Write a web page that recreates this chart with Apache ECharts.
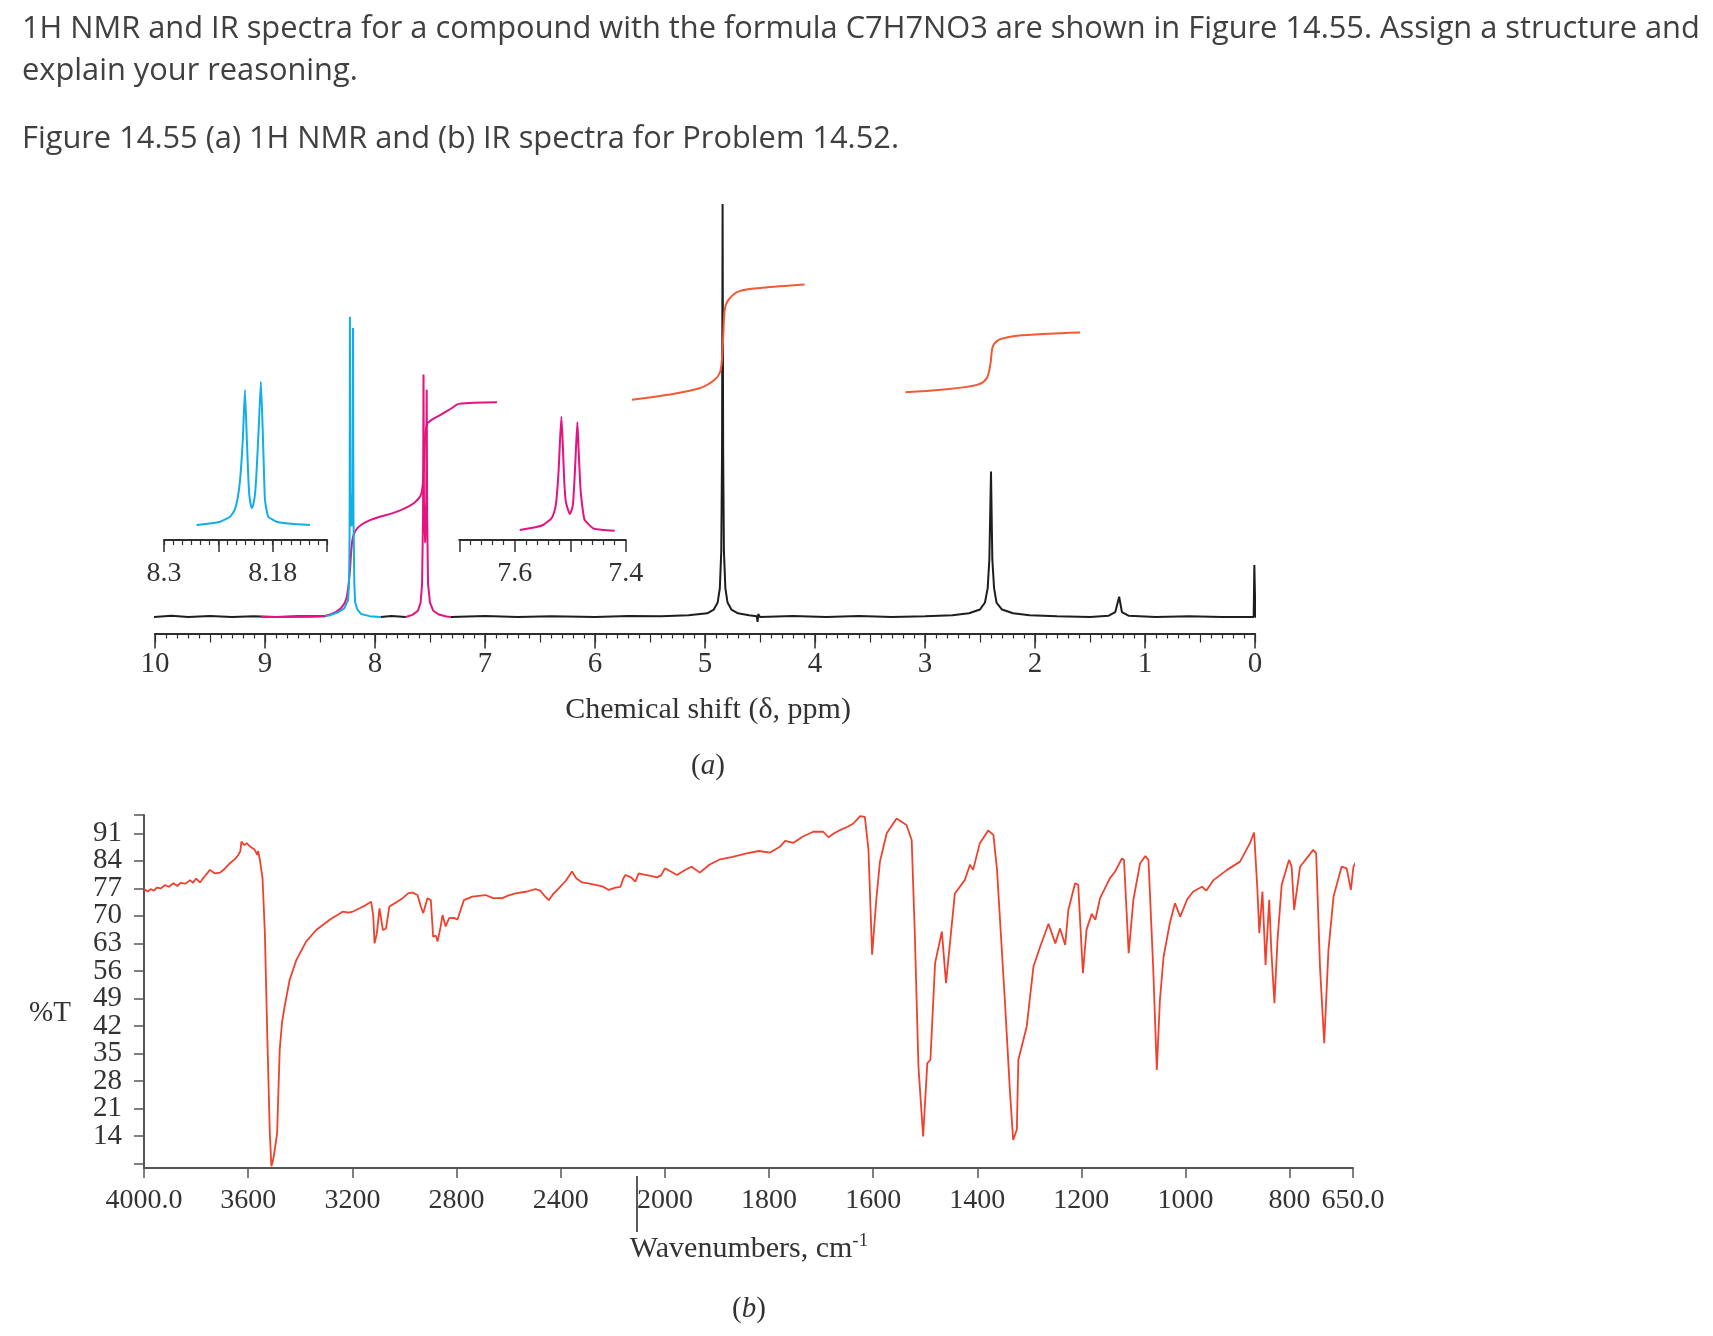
<!DOCTYPE html>
<html>
<head>
<meta charset="utf-8">
<script src="https://cdn.jsdelivr.net/npm/echarts@6/dist/echarts.min.js"></script>
<style>
html,body{margin:0;padding:0;background:#fff;}
#chart{width:1713px;height:1336px;}
</style>
</head>
<body>
<div id="chart"></div>
<script>
// ---------- DATA ----------
// 1H NMR main spectrum (ppm, intensity); '-' breaks the trace where coloured peaks are drawn
const nmrSpectrum = [
  [10.02,0],[9.85,0.3],[9.7,0],[9.5,0.25],[9.3,0],[9.1,0.2],[8.9,0],[8.7,0.2],[8.45,0.2],[8.44,'-'],
  [7.95,0],[7.85,0.25],[7.72,0],[7.71,'-'],
  [7.31,0],[7.0,0.25],[6.7,0],[6.4,0.2],[6.0,0],[5.7,0.25],[5.4,0.2],[5.15,0.4],[4.98,0.9],[4.92,1.8],
  [4.885,3.5],[4.865,7],[4.852,16],[4.845,40],[4.84,100],[4.835,40],[4.828,16],[4.815,7],[4.795,3.5],
  [4.76,1.8],[4.7,0.9],[4.6,0.4],[4.53,0.2],[4.522,-1.2],[4.516,0.7],[4.5,0],[4.2,0.25],[3.9,0],
  [3.6,0.25],[3.3,0],[3.0,0.2],[2.75,0.4],[2.6,0.9],[2.5,1.8],[2.455,3.5],[2.43,7],[2.415,14],[2.40,35.2],
  [2.388,14],[2.372,7],[2.35,3.5],[2.3,1.8],[2.2,0.9],[2.05,0.4],[1.8,0.2],[1.5,0],[1.33,0.3],
  [1.27,1.2],[1.235,4.9],[1.21,1.2],[1.15,0.3],[0.9,0],[0.6,0.2],[0.3,0],[0.012,0],[0.006,12.6],
  [0.002,12.6],[-0.004,0],[-0.16,0]
];
// aromatic peaks in the main spectrum
const nmrPeakBlue = [
  [8.45,0.2],[8.40,0.5],[8.33,1.2],[8.28,2.1],[8.245,4.1],[8.236,8],[8.231,20],[8.228,72.7],[8.224,30],
  [8.214,22],[8.204,30],[8.200,70],[8.196,25],[8.188,8],[8.18,3.5],[8.16,1.8],[8.125,0.7],[8.05,0.2],[7.95,0]
];
const nmrPeakMagenta = [
  [7.72,0],[7.66,0.5],[7.61,1.5],[7.585,3.5],[7.572,8],[7.563,25],[7.559,58.7],[7.555,28],[7.544,18],
  [7.534,28],[7.530,55],[7.526,25],[7.518,8],[7.50,3.5],[7.47,1.5],[7.42,0.6],[7.35,0.1],[7.31,0]
];
// integral traces
const integralAromatic = [
  [9.04,0],[8.52,0.1],[8.40,0.7],[8.31,2.1],[8.26,4.5],[8.23,10.6],[8.205,18.7],[8.16,21.5],[8.04,23.5],
  [7.80,25.5],[7.645,27.6],[7.577,30.0],[7.553,38.1],[7.53,46.5],[7.40,49.0],[7.30,50.6],[7.24,51.6],[6.89,52.0]
];
const integralCH2 = [
  [5.664,52.6],[5.34,53.8],[5.05,55.4],[4.91,57.5],[4.857,59.9],[4.836,67.2],[4.82,74.4],[4.787,76.8],
  [4.687,78.9],[4.48,79.7],[4.095,80.5]
];
const integralOH = [
  [3.178,54.4],[2.852,55.0],[2.526,56.2],[2.437,57.9],[2.404,61.5],[2.383,65.5],[2.32,67.2],[2.16,68.1],
  [1.875,68.6],[1.59,68.9]
];
// expansion insets
const insetBlue = [
  [8.264,15],[8.25,16.5],[8.238,18.3],[8.227,23.3],[8.222,30],[8.219,40],[8.216,60],[8.213,100],[8.2106,150],
  [8.2085,100],[8.207,65],[8.2058,45],[8.2032,31.7],[8.2015,35],[8.1996,45],[8.198,65],[8.1955,110],[8.193,158.3],
  [8.191,110],[8.1895,65],[8.1885,40],[8.1849,23.3],[8.1756,18.3],[8.16,16.3],[8.1388,15]
];
const insetMagenta = [
  [7.591,10],[7.565,12.5],[7.549,15],[7.534,21.7],[7.528,30],[7.525,40],[7.521,70],[7.5185,100],[7.516,123.3],
  [7.5135,95],[7.511,60],[7.5085,40],[7.5058,33.3],[7.501,26],[7.497,31],[7.495,36.7],[7.492,65],[7.4895,95],
  [7.4872,117.7],[7.485,90],[7.4825,60],[7.481,46.7],[7.477,28],[7.474,20],[7.459,11.7],[7.44,10],[7.42,9.3]
];
const insetBlueTicksMajor = [8.12, 8.18, 8.24, 8.30];
const insetBlueTicksMinor = [8.12,8.13,8.14,8.15,8.16,8.17,8.18,8.19,8.20,8.21,8.22,8.23,8.24,8.25,8.26,8.27,8.28,8.29,8.30];
const insetBlueLabels = [8.18, 8.30];

// IR spectrum (wavenumber cm-1, %T)
const irSpectrum = [
  [4000,76.8],[3996,77.0],[3985,76.2],[3975,76.8],[3962,76.4],[3951,77.2],[3935,77.0],[3920,77.8],[3905,77.4],
  [3887,78.3],[3872,77.6],[3860,78.4],[3840,78.2],[3823,79.1],[3812,78.4],[3800,79.5],[3785,78.5],[3775,79.4],
  [3765,80.2],[3747,81.7],[3728,80.8],[3708,81.0],[3690,82.0],[3670,83.4],[3650,84.5],[3638,85.5],[3630,86.5],
  [3626,88.9],[3615,88.0],[3606,88.5],[3590,87.5],[3575,86.8],[3565,85.5],[3562,86.5],[3555,84.2],[3545,79.6],
  [3536,65.6],[3527,40.2],[3517,14.7],[3511,6.3],[3504,8.0],[3498,10.5],[3489,14.7],[3479,36.0],[3470,43.0],
  [3460,47.0],[3441,53.7],[3415,58.8],[3377,63.5],[3339,66.4],[3287,69.0],[3236,71.1],[3215,70.8],[3198,71.1],
  [3170,72.0],[3147,72.8],[3128,73.6],[3120,70.0],[3115,63.0],[3106,65.6],[3096,71.9],[3083,66.4],[3071,66.8],
  [3058,72.4],[3030,73.5],[3007,74.5],[2985,75.8],[2969,75.9],[2950,75.3],[2938,72.5],[2928,70.7],[2912,74.5],
  [2899,74.0],[2890,64.7],[2880,65.0],[2873,63.5],[2862,67.0],[2854,70.2],[2842,67.3],[2829,69.4],[2810,69.5],
  [2797,69.0],[2772,74.0],[2740,74.9],[2689,75.3],[2660,74.5],[2625,74.5],[2600,75.2],[2573,75.7],[2530,76.2],
  [2497,76.8],[2480,76.5],[2465,75.3],[2446,74.0],[2430,75.5],[2408,77.0],[2380,79.0],[2357,81.3],[2340,79.5],
  [2318,78.5],[2290,78.2],[2267,77.9],[2240,77.5],[2216,76.6],[2190,77.2],[2171,77.4],[2160,79.5],[2152,80.4],
  [2130,79.8],[2114,78.7],[2101,80.8],[2080,80.5],[2055,80.2],[2032,79.8],[2015,80.3],[2000,82.1],
  [1977,80.4],[1960,81.8],[1949,82.5],[1933,81.0],[1915,83.0],[1894,84.4],[1870,85.0],[1843,85.9],[1820,86.5],
  [1798,86.1],[1780,87.5],[1769,89.1],[1753,88.6],[1735,90.2],[1715,91.4],[1696,91.4],[1686,90.0],[1675,91.0],
  [1664,91.8],[1650,92.6],[1638,93.5],[1625,95.4],[1616,95.2],[1609,86.8],[1602,60.1],[1594,74.1],[1587,83.8],
  [1574,91.0],[1555,94.8],[1536,93.1],[1526,89.3],[1520,65.6],[1513,31.7],[1504,13.9],[1496,32.5],[1490,33.4],
  [1481,58.0],[1468,66.0],[1460,52.9],[1443,75.7],[1424,79.1],[1414,83.0],[1408,81.7],[1395,88.5],[1379,91.7],
  [1369,90.6],[1362,81.7],[1347,48.6],[1337,24.9],[1331,13.0],[1324,15.6],[1321,33.4],[1305,41.8],[1292,57.1],
  [1279,62.2],[1263,68.0],[1250,63.0],[1241,66.8],[1231,62.6],[1225,71.5],[1212,78.3],[1206,77.9],[1197,55.4],
  [1190,66.5],[1180,70.5],[1173,69.0],[1164,74.5],[1145,79.6],[1135,81.3],[1122,84.6],[1118,84.2],[1109,60.5],
  [1100,74.1],[1087,83.4],[1077,85.2],[1071,84.2],[1062,57.1],[1055,30.8],[1049,48.6],[1042,59.6],[1030,68.1],
  [1020,73.2],[1010,69.8],[997,74.1],[985,76.2],[968,77.4],[960,76.4],[946,79.1],[920,81.7],[895,83.8],
  [876,88.5],[868,91.2],[862,77.4],[858,65.6],[852,76.2],[846,57.5],[839,74.1],[835,61.3],[829,47.8],[823,63.9],
  [815,77.9],[801,84.2],[800,84.0],[795,82.5],[789,71.5],[775,82.5],[744,86.8],[737,85.9],[728,57.1],[718,37.6],
  [708,61.3],[696,74.9],[677,82.5],[665,82.1],[655,76.6],[649,82.5],[633,85.9],[614,87.6]
];
const irYTicks = [7,14,21,28,35,42,49,56,63,70,77,84,91,95.66];
const irYLabelsEven = [14,28,42,56,70,84];
const irYLabelsOdd = [21,35,49,63,77,91];

// ---------- STYLE ----------
const SERIF = '"Liberation Serif", "Times New Roman", serif';
const SANS = '"Open Sans", Lato, sans-serif';
const C_BLACK = '#1e1e1e', C_BLUE = '#12aee8', C_MAG = '#e5137f', C_INT = '#f25a35', C_IR = '#f0412e';
const AX = '#2e2e2e';

function seg(lo, hi) { return irSpectrum.filter(p => p[0] >= lo && p[0] <= hi); }

const chart = echarts.init(document.getElementById('chart'), null, {renderer: 'canvas'});

const lineBase = {type: 'line', showSymbol: false, symbol: 'none', connectNulls: false, animation: false};
const txt = (x, y, text, font, align) => ({type: 'text', x: x, y: y, style: {text: text, font: font, fill: '#404040',
  align: align, verticalAlign: 'middle', textAlign: align, textVerticalAlign: 'middle'}});

const option = {
  backgroundColor: '#ffffff',
  animation: false,
  grid: [
    {left: 155, top: 204, width: 1100, height: 429.5},      // 0 NMR main
    {left: 164, top: 380, width: 163, height: 160},         // 1 blue inset
    {left: 459.3, top: 380, width: 166.5, height: 160},     // 2 magenta inset
    {left: 144, top: 815, width: 521, height: 353},         // 3 IR 4000-2000
    {left: 665, top: 815, width: 624.5, height: 353},       // 4 IR 2000-800
    {left: 1289.5, top: 815, width: 63.5, height: 353}      // 5 IR 800-650
  ],
  xAxis: [
    {gridIndex: 0, type: 'value', min: 0, max: 10, interval: 1, inverse: true, position: 'bottom',
     axisLine: {show: true, onZero: false, lineStyle: {color: AX, width: 2}},
     axisTick: {show: true, length: 15, lineStyle: {color: AX, width: 1.5}},
     axisLabel: {show: true, margin: 16, color: '#333', fontFamily: SERIF, fontSize: 29},
     splitLine: {show: false}},
    {gridIndex: 0, type: 'value', min: 0, max: 10, interval: 0.5, inverse: true, position: 'bottom',
     axisLine: {show: false, onZero: false},
     axisTick: {show: true, length: 9, lineStyle: {color: AX, width: 1.2}},
     minorTick: {show: true, splitNumber: 5, length: 5, lineStyle: {color: AX, width: 1.2}},
     axisLabel: {show: false}, splitLine: {show: false}},
    {gridIndex: 1, type: 'value', min: 8.12, max: 8.30, inverse: true, position: 'bottom',
     axisLine: {show: true, onZero: false, lineStyle: {color: AX, width: 2}},
     axisTick: {show: true, customValues: insetBlueTicksMajor, length: 12, lineStyle: {color: AX, width: 1.5}},
     axisLabel: {show: true, customValues: insetBlueLabels, margin: 20, color: '#333', fontFamily: SERIF, fontSize: 28,
       showMinLabel: true, showMaxLabel: true,
       formatter: v => (Math.abs(v - 8.3) < 1e-6 ? '8.3' : '8.18')},
     splitLine: {show: false}},
    {gridIndex: 1, type: 'value', min: 8.12, max: 8.30, inverse: true, position: 'bottom',
     axisLine: {show: false, onZero: false},
     axisTick: {show: true, customValues: insetBlueTicksMinor, length: 5, lineStyle: {color: AX, width: 1.2}},
     axisLabel: {show: false}, splitLine: {show: false}},
    {gridIndex: 2, type: 'value', min: 7.4, max: 7.7, interval: 0.1, inverse: true, position: 'bottom',
     axisLine: {show: true, onZero: false, lineStyle: {color: AX, width: 2}},
     axisTick: {show: true, length: 12, lineStyle: {color: AX, width: 1.5}},
     minorTick: {show: true, splitNumber: 5, length: 5, lineStyle: {color: AX, width: 1.2}},
     axisLabel: {show: true, margin: 20, color: '#333', fontFamily: SERIF, fontSize: 28, showMinLabel: true, showMaxLabel: true,
       formatter: v => (Math.abs(v - 7.6) < 1e-6 ? '7.6' : (Math.abs(v - 7.4) < 1e-6 ? '7.4' : ''))},
     splitLine: {show: false}},
    {gridIndex: 3, type: 'value', min: 2000, max: 4000, interval: 400, inverse: true, position: 'bottom',
     axisLine: {show: true, onZero: false, lineStyle: {color: '#555', width: 2}},
     axisTick: {show: true, length: 10, lineStyle: {color: '#555', width: 1.5}},
     axisLabel: {show: true, margin: 19, color: '#333', fontFamily: SERIF, fontSize: 28, showMinLabel: true, showMaxLabel: true,
       formatter: v => (v === 4000 ? '4000.0' : (v === 2000 ? '' : String(v)))},
     splitLine: {show: false}},
    {gridIndex: 4, type: 'value', min: 800, max: 2000, interval: 200, inverse: true, position: 'bottom',
     axisLine: {show: true, onZero: false, lineStyle: {color: '#555', width: 2}},
     axisTick: {show: true, length: 10, lineStyle: {color: '#555', width: 1.5}},
     axisLabel: {show: true, margin: 19, color: '#333', fontFamily: SERIF, fontSize: 28, showMinLabel: true, showMaxLabel: true,
       formatter: v => String(v)},
     splitLine: {show: false}},
    {gridIndex: 5, type: 'value', min: 650, max: 800, inverse: true, position: 'bottom',
     axisLine: {show: true, onZero: false, lineStyle: {color: '#555', width: 2}},
     axisTick: {show: true, customValues: [650, 800], length: 10, lineStyle: {color: '#555', width: 1.5}},
     axisLabel: {show: true, customValues: [650], margin: 19, color: '#333', fontFamily: SERIF, fontSize: 28,
       showMinLabel: true, showMaxLabel: true, formatter: () => '650.0'},
     splitLine: {show: false}}
  ],
  yAxis: [
    {gridIndex: 0, type: 'value', min: -4, max: 100, show: false},
    {gridIndex: 1, type: 'value', min: 0, max: 160, show: false},
    {gridIndex: 2, type: 'value', min: 0, max: 160, show: false},
    {gridIndex: 3, type: 'value', min: 5.86, max: 95.66, position: 'left',
     axisLine: {show: true, onZero: false, lineStyle: {color: '#555', width: 2}},
     axisTick: {show: true, customValues: irYTicks, length: 10, lineStyle: {color: '#555', width: 1.5}},
     axisLabel: {show: true, customValues: irYLabelsEven, margin: 22, color: '#333', fontFamily: SERIF, fontSize: 29,
       showMinLabel: true, showMaxLabel: true},
     splitLine: {show: false}},
    {gridIndex: 4, type: 'value', min: 5.86, max: 95.66, show: false},
    {gridIndex: 5, type: 'value', min: 5.86, max: 95.66, show: false},
    {gridIndex: 3, type: 'value', min: 5.86, max: 95.66, position: 'left', offset: 0,
     axisLine: {show: false, onZero: false}, axisTick: {show: false},
     axisLabel: {show: true, customValues: irYLabelsOdd, margin: 22, color: '#333', fontFamily: SERIF, fontSize: 29,
       showMinLabel: true, showMaxLabel: true},
     splitLine: {show: false}}
  ],
  series: [
    Object.assign({}, lineBase, {name: 'spectrum', xAxisIndex: 0, yAxisIndex: 0, clip: false, data: nmrSpectrum,
      lineStyle: {color: C_BLACK, width: 2}}),
    Object.assign({}, lineBase, {name: 'integral aromatic', xAxisIndex: 0, yAxisIndex: 0, clip: false, smooth: 0.3,
      data: integralAromatic, lineStyle: {color: C_MAG, width: 2}}),
    Object.assign({}, lineBase, {name: 'peak 8.2', xAxisIndex: 0, yAxisIndex: 0, clip: false, data: nmrPeakBlue,
      lineStyle: {color: C_BLUE, width: 2}}),
    Object.assign({}, lineBase, {name: 'peak 7.5', xAxisIndex: 0, yAxisIndex: 0, clip: false, data: nmrPeakMagenta,
      lineStyle: {color: C_MAG, width: 2}}),
    Object.assign({}, lineBase, {name: 'integral CH2', xAxisIndex: 0, yAxisIndex: 0, clip: false, smooth: 0.3,
      data: integralCH2, lineStyle: {color: C_INT, width: 2}}),
    Object.assign({}, lineBase, {name: 'integral OH', xAxisIndex: 0, yAxisIndex: 0, clip: false, smooth: 0.3,
      data: integralOH, lineStyle: {color: C_INT, width: 2}}),
    Object.assign({}, lineBase, {name: 'inset 8.2', xAxisIndex: 2, yAxisIndex: 1, clip: false, data: insetBlue,
      smooth: 0.15, lineStyle: {color: C_BLUE, width: 2}}),
    Object.assign({}, lineBase, {name: 'inset 7.5', xAxisIndex: 4, yAxisIndex: 2, clip: false, data: insetMagenta,
      smooth: 0.15, lineStyle: {color: C_MAG, width: 2}}),
    Object.assign({}, lineBase, {name: 'IR a', xAxisIndex: 5, yAxisIndex: 3, clip: false, data: seg(2000, 4000),
      lineStyle: {color: C_IR, width: 1.8}}),
    Object.assign({}, lineBase, {name: 'IR b', xAxisIndex: 6, yAxisIndex: 4, clip: false, data: seg(800, 2000),
      lineStyle: {color: C_IR, width: 1.8}}),
    Object.assign({}, lineBase, {name: 'IR c', xAxisIndex: 7, yAxisIndex: 5, clip: false, data: seg(0, 800),
      lineStyle: {color: C_IR, width: 1.8}})
  ],
  graphic: [
    txt(22, 29, '1H NMR and IR spectra for a compound with the formula C7H7NO3 are shown in Figure 14.55. Assign a structure and', '30.8px ' + SANS, 'left'),
    txt(22, 71, 'explain your reasoning.', '30.8px ' + SANS, 'left'),
    txt(22, 139, 'Figure 14.55 (a) 1H NMR and (b) IR spectra for Problem 14.52.', '30.8px ' + SANS, 'left'),
    {type: 'text', x: 708, y: 710, style: {text: 'Chemical shift (δ, ppm)',
      font: '30px ' + SERIF, fill: '#333', align: 'center', verticalAlign: 'middle', textAlign: 'center', textVerticalAlign: 'middle'}},
    {type: 'text', x: 708, y: 766, style: {text: '{n|(}{i|a}{n|)}', align: 'center', verticalAlign: 'middle', textAlign: 'center', textVerticalAlign: 'middle',
      rich: {n: {fontFamily: SERIF, fontSize: 29, fill: '#333'}, i: {fontFamily: SERIF, fontSize: 29, fontStyle: 'italic', fill: '#333'}}}},
    {type: 'text', x: 50, y: 1013, style: {text: '%T',
      font: '29px ' + SERIF, fill: '#333', align: 'center', verticalAlign: 'middle', textAlign: 'center', textVerticalAlign: 'middle'}},
    {type: 'text', x: 749, y: 1249, style: {text: '{a|Wavenumbers, cm}{s|-1}', align: 'center', verticalAlign: 'middle', textAlign: 'center', textVerticalAlign: 'middle',
      rich: {a: {fontFamily: SERIF, fontSize: 30, fill: '#333', lineHeight: 34}, s: {fontFamily: SERIF, fontSize: 19, fill: '#333', verticalAlign: 'top', lineHeight: 34}}}},
    {type: 'text', x: 749, y: 1309, style: {text: '{n|(}{i|b}{n|)}', align: 'center', verticalAlign: 'middle', textAlign: 'center', textVerticalAlign: 'middle',
      rich: {n: {fontFamily: SERIF, fontSize: 29, fill: '#333'}, i: {fontFamily: SERIF, fontSize: 29, fontStyle: 'italic', fill: '#333'}}}},
    {type: 'line', shape: {x1: 637, y1: 1176, x2: 637, y2: 1232}, style: {stroke: '#222', lineWidth: 1.5}}
  ]
};
chart.setOption(option);
</script>
</body>
</html>
